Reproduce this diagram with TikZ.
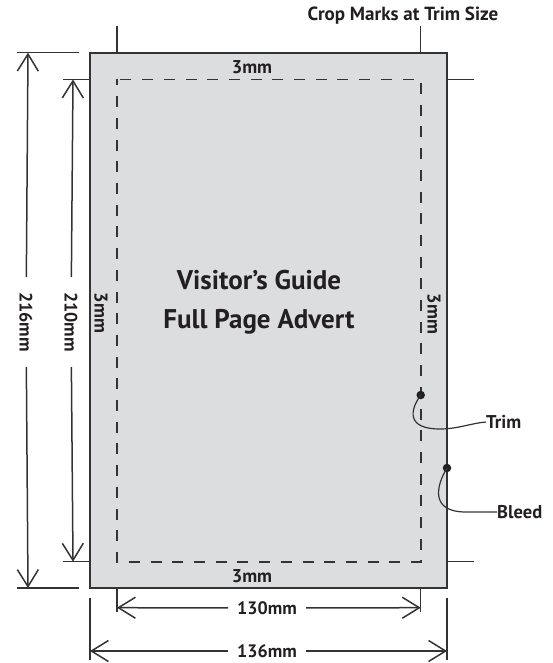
\documentclass[tikz,border=0pt]{standalone}
\usepackage{fontspec}
\setmainfont{PT Sans}
\usetikzlibrary{arrows.meta}
\definecolor{paper}{HTML}{DCDDDF}
\definecolor{ink}{HTML}{231F20}
\definecolor{lineink}{HTML}{333333}
\tikzset{
  dimline/.style={draw=lineink, line width=1.5pt, {Straight Barb[length=17pt,width=21pt]}-{Straight Barb[length=17pt,width=21pt]}},
  halfdim/.style={draw=lineink, line width=1.5pt, -{Straight Barb[length=17pt,width=21pt]}},
  extline/.style={draw=lineink, line width=1.5pt},
  dimlabel/.style={text=ink, font=\bfseries\fontsize{18}{21}\selectfont, inner sep=0pt},
  marginlabel/.style={text=ink, font=\bfseries\fontsize{18.5}{21}\selectfont, inner sep=0pt},
  calloutlabel/.style={text=ink, font=\bfseries\fontsize{18.5}{21}\selectfont, inner sep=0pt, anchor=west},
  callout/.style={draw=lineink, line width=1.2pt},
  dot/.style={circle, fill=ink, inner sep=0pt, minimum size=8.5pt}
}
\begin{document}
\begin{tikzpicture}[x=1pt,y=-1pt]
\useasboundingbox (0,0) rectangle (552,663);
% bleed area and trim line
\path[fill=paper, draw=lineink, line width=2pt] (90,52.7) rectangle (447,588);
\draw[lineink, line width=1.6pt, dash pattern=on 11pt off 10.7pt, dash phase=5pt] (117,79.5) rectangle (420.7,561.7);
% crop marks
\node[text=ink, font=\bfseries\fontsize{19}{22}\selectfont, inner sep=0pt] (croptitle) at (403,16) {Crop Marks at Trim Size};
\coordinate (cmTL1) at (117,26); \coordinate (cmTL2) at (117,52.7);
\coordinate (cmTR1) at (420.7,26); \coordinate (cmTR2) at (420.7,52.7);
\draw[extline] (cmTL1) -- (cmTL2);
\draw[extline] (cmTR1) -- (cmTR2);
\coordinate (cmRT1) at (447,79.5); \coordinate (cmRT2) at (474,79.5);
\coordinate (cmRB1) at (447,561.7); \coordinate (cmRB2) at (474,561.7);
\draw[extline] (cmRT1) -- (cmRT2);
\draw[extline] (cmRB1) -- (cmRB2);
% 216mm dimension
\coordinate (e216t1) at (17,52.7); \coordinate (e216t2) at (79,52.7);
\coordinate (e216b1) at (17,588); \coordinate (e216b2) at (79,588);
\draw[extline] (e216t1) -- (e216t2);
\draw[extline] (e216b1) -- (e216b2);
\coordinate (a216t) at (28,52.7); \coordinate (a216b) at (28,588);
\node[dimlabel, rotate=-90, inner xsep=15pt] (l216) at (26,322) {216mm};
\draw[halfdim] (l216) -- (a216t);
\draw[halfdim] (l216) -- (a216b);
% 210mm dimension
\coordinate (e210t1) at (63,79.5); \coordinate (e210t2) at (90,79.5);
\coordinate (e210b1) at (63,561.7); \coordinate (e210b2) at (90,561.7);
\draw[extline] (e210t1) -- (e210t2);
\draw[extline] (e210b1) -- (e210b2);
\coordinate (a210t) at (73,79.5); \coordinate (a210b) at (73,561.7);
\node[dimlabel, rotate=-90, inner xsep=15pt] (l210) at (71,322) {210mm};
\draw[halfdim] (l210) -- (a210t);
\draw[halfdim] (l210) -- (a210b);
% 130mm dimension
\coordinate (e130l1) at (117,588); \coordinate (e130l2) at (117,612);
\coordinate (e130r1) at (420.7,588); \coordinate (e130r2) at (420.7,612);
\draw[extline] (e130l1) -- (e130l2);
\draw[extline] (e130r1) -- (e130r2);
\coordinate (a130l) at (117,607.7); \coordinate (a130r) at (420.7,607.7);
\node[dimlabel, inner xsep=9pt] (l130) at (267,608) {130mm};
\draw[halfdim] (l130) -- (a130l);
\draw[halfdim] (l130) -- (a130r);
% 136mm dimension
\coordinate (e136l1) at (90,598); \coordinate (e136l2) at (90,660);
\coordinate (e136r1) at (447,598); \coordinate (e136r2) at (447,660);
\draw[extline] (e136l1) -- (e136l2);
\draw[extline] (e136r1) -- (e136r2);
\coordinate (a136l) at (90,651); \coordinate (a136r) at (447,651);
\node[dimlabel, inner xsep=9pt] (l136) at (267,651) {136mm};
\draw[halfdim] (l136) -- (a136l);
\draw[halfdim] (l136) -- (a136r);
% margin labels
\node[marginlabel] (mtop) at (252,67) {3mm};
\node[marginlabel] (mbot) at (252,576) {3mm};
\node[marginlabel, rotate=-90] (mleft) at (101,313) {3mm};
\node[marginlabel, rotate=-90] (mright) at (434,314) {3mm};
% title
\node[text=ink, font=\bfseries\fontsize{27}{39}\selectfont, align=center, inner sep=0pt] (title) at (259,302) {Visitor’s Guide\\Full Page Advert};
% callouts
\node[dot] (trimdot) at (420.7,395) {};
\node[calloutlabel] (trim) at (486,422) {Trim};
\draw[callout] (trimdot.center) .. controls (410,410) and (406,429) .. (440,429) .. controls (458,429) and (472,423) .. (trim.west);
\node[dot] (bleeddot) at (447,468) {};
\node[calloutlabel] (bleed) at (497,512) {Bleed};
\draw[callout] (bleeddot.center) .. controls (436,486) and (430,512) .. (466,512) .. controls (478,512) and (488,512) .. (bleed.west);
\end{tikzpicture}
\end{document}
